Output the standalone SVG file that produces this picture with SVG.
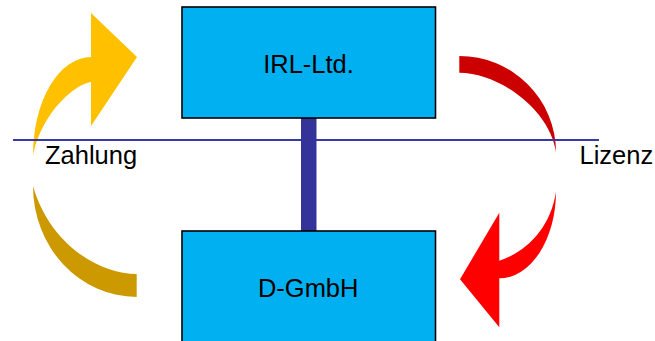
<svg xmlns="http://www.w3.org/2000/svg" width="655" height="341" viewBox="0 0 655 341">
  <style>
    .box { fill: #00B0F0; stroke: #000000; stroke-width: 1.6; }
    .lbl { font-family: "Liberation Sans", Arial, sans-serif; font-size: 25.5px; fill: #000000; }
  </style>
  <rect width="655" height="341" fill="#FFFFFF"/>
  <g id="arrows">
    <path id="zahlung-up" d="M 33 155 A 58 98 0 0 1 91 57 L 91 13 L 137 57 L 91 126 L 91 82 C 75 84 42 112 33 155 Z" fill="#FFC000"/>
    <path id="zahlung-down" d="M 33 186 A 103.7 111 0 0 0 136.7 297 L 136.7 274 C 100 274 50 245 33 186 Z" fill="#CC9900"/>
    <path id="lizenz-up" d="M 459.3 56 A 96.7 96.3 0 0 1 556 152.3 C 550 110 500 73 459.3 72.7 Z" fill="#CC0000"/>
    <path id="lizenz-down" d="M 556 191.7 A 56.7 86.6 0 0 1 499.3 278.3 L 499.3 327.3 L 460 279.3 L 499.3 212.7 L 499.3 260.7 C 525 252 550 230 556 191.7 Z" fill="#FF0000"/>
  </g>
  <g id="connectors">
    <line x1="13" y1="140" x2="599" y2="140" stroke="#3838A8" stroke-width="1.8"/>
    <rect x="301" y="118" width="15.5" height="113" fill="#333399"/>
  </g>
  <g id="irl">
    <rect class="box" x="182" y="7" width="253.5" height="111"/>
    <text class="lbl" x="308.5" y="73.3" text-anchor="middle">IRL-Ltd.</text>
  </g>
  <g id="dgmbh">
    <rect class="box" x="182" y="231" width="253.5" height="150"/>
    <text class="lbl" x="308.2" y="296.7" text-anchor="middle">D-GmbH</text>
  </g>
  <g id="labels">
    <text class="lbl" x="45" y="164.3">Zahlung</text>
    <text class="lbl" x="579.5" y="164.3">Lizenz</text>
  </g>
</svg>
